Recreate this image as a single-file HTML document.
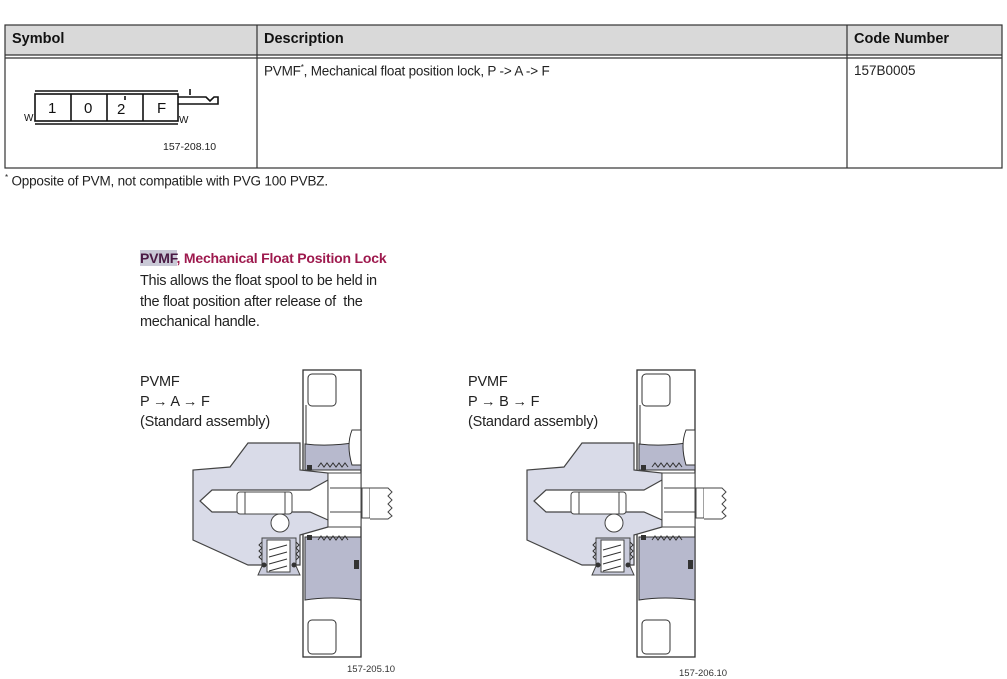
<!DOCTYPE html>
<html><head><meta charset="utf-8"><style>
body{margin:0;width:1007px;height:679px;background:#fff;position:relative;overflow:hidden;font-family:"Liberation Sans",sans-serif;color:#222}
.t{position:absolute;white-space:nowrap}
</style></head><body>
<svg width="1007" height="679" style="position:absolute;left:0;top:0" xmlns="http://www.w3.org/2000/svg">
<rect x="5" y="25" width="997" height="30" fill="#d9d9d9"/>
<g stroke="#333" stroke-width="1.2" fill="none">
<rect x="5" y="25" width="997" height="143"/>
<line x1="5" y1="55" x2="1002" y2="55"/>
<line x1="5" y1="58" x2="1002" y2="58"/>
<line x1="257" y1="25" x2="257" y2="168"/>
<line x1="847" y1="25" x2="847" y2="168"/>
</g>
<g stroke="#111" stroke-width="1.6" fill="none">
<line x1="35" y1="91" x2="178" y2="91"/>
<line x1="35" y1="124" x2="178" y2="124"/>
<rect x="35" y="94" width="143" height="27"/>
<line x1="71" y1="94" x2="71" y2="121"/>
<line x1="107" y1="94" x2="107" y2="121"/>
<line x1="143" y1="94" x2="143" y2="121"/>
<polyline points="178,97 206,97 210,101 214,97 218,97 218,104 178,104"/>
<line x1="190" y1="89" x2="190" y2="95"/>
<line x1="125" y1="96" x2="125" y2="100"/>
</g>
<g font-family="Liberation Sans" font-size="15" fill="#111">
<text x="48" y="113">1</text><text x="84" y="113">0</text><text x="117" y="114">2</text><text x="157" y="113">F</text>
</g>
<text x="24" y="121" font-size="10" fill="#111" font-family="Liberation Sans">W</text>
<text x="179" y="123" font-size="10" fill="#111" font-family="Liberation Sans">W</text>
<text x="163" y="150" font-size="10.5" fill="#222" font-family="Liberation Sans">157-208.10</text>

<defs>
<g id="dg">
  <rect x="303" y="370" width="58" height="287" fill="#fff" stroke="#333" stroke-width="1.3"/>
  <rect x="308" y="374" width="28" height="32" rx="4" fill="#fff" stroke="#333"/>
  <rect x="308" y="620" width="28" height="34" rx="4" fill="#fff" stroke="#333"/>
  <line x1="306" y1="405" x2="306" y2="445" stroke="#333"/>
  <path d="M305 444 Q330 447 358 442 L361 442 L361 470 L305 470 Z" fill="#b7b9cd" stroke="#333"/>
  <path d="M305 537 L361 537 L361 600 Q330 596 305 600 Z" fill="#b7b9cd" stroke="#333"/>
  <path d="M352 430 Q346 445 352 465 L361 465 L361 430Z" fill="#fff" stroke="#333"/>
  <rect x="354" y="560" width="5" height="9" fill="#333"/>
  <!-- body -->
  <polygon points="248,443 300,443 300,470 328,473 328,527 300,535 300,565 248,565 193,540 193,470 230,467" fill="#d9dbe8" stroke="#444" stroke-width="1.2"/>
  <!-- bore -->
  <path d="M212 490 L310 490 L328 480 L328 520 L310 512 L212 512 L200 501 Z" fill="#fff" stroke="#444" stroke-width="1.2"/>
  <rect x="328" y="473" width="33" height="54" fill="#fff" stroke="#444"/>
  <line x1="330" y1="488" x2="361" y2="488" stroke="#444"/>
  <line x1="330" y1="512" x2="361" y2="512" stroke="#444"/>
  <rect x="237" y="492" width="55" height="22" rx="3" fill="#fff" stroke="#444"/>
  <line x1="245" y1="492" x2="245" y2="514" stroke="#444"/>
  <line x1="285" y1="492" x2="285" y2="514" stroke="#444"/>
  <rect x="362" y="488" width="8" height="30" fill="#fff" stroke="#444"/>
  <path d="M370 488 L388 488 L392 492 L388 496 L392 500 L388 504 L392 508 L388 512 L392 516 L388 519 L370 519" fill="#fff" stroke="#444"/>
  <path d="M318 467 l3 -4 l3 4 l3 -4 l3 4 l3 -4 l3 4 l3 -4 l3 4 l3 -4 l3 4" fill="none" stroke="#333"/>
  <path d="M318 540 l3 -4 l3 4 l3 -4 l3 4 l3 -4 l3 4 l3 -4 l3 4 l3 -4 l3 4" fill="none" stroke="#333"/>
  <rect x="307" y="465" width="5" height="5" fill="#333"/>
  <rect x="307" y="535" width="5" height="5" fill="#333"/>
  <circle cx="280" cy="523" r="9" fill="#fff" stroke="#444"/>
  <path d="M262 538 L296 538 L296 566 L300 575 L258 575 L262 566 Z" fill="#c9cbdb" stroke="#444"/>
  <rect x="267" y="540" width="23" height="32" fill="#fff" stroke="#444"/>
  <path d="M269 550 L287 545 M269 557 L287 552 M269 564 L287 559 M269 571 L287 566" stroke="#333"/>
  <path d="M262 542 l-3 3 l3 3 l-3 3 l3 3 l-3 3 l3 3 M296 542 l3 3 l-3 3 l3 3 l-3 3 l3 3 l-3 3" fill="none" stroke="#333"/>
  <circle cx="264" cy="565" r="2.5" fill="#333"/><circle cx="294" cy="565" r="2.5" fill="#333"/>
</g>
</defs>
<use href="#dg"/>
<use href="#dg" transform="translate(334,0)"/>
<text x="347" y="672" font-size="9.5" fill="#333" font-family="Liberation Sans">157-205.10</text>
<text x="679" y="676" font-size="9.5" fill="#333" font-family="Liberation Sans">157-206.10</text>
</svg>

<div class="t" style="left:12px;top:31px;font-size:14.5px;font-weight:bold;color:#111">Symbol</div>
<div class="t" style="left:264px;top:31px;font-size:14.5px;font-weight:bold;color:#111">Description</div>
<div class="t" style="left:854px;top:31px;font-size:14.5px;font-weight:bold;color:#111">Code Number</div>
<div class="t" style="left:264px;top:63px;font-size:13.5px;letter-spacing:-0.2px">PVMF<sup style="font-size:8px">*</sup>, Mechanical float position lock, P -&gt; A -&gt; F</div>
<div class="t" style="left:854px;top:63px;font-size:13.5px">157B0005</div>
<div class="t" style="left:5px;top:173px;font-size:13.5px;letter-spacing:-0.2px"><sup style="font-size:8px">*</sup> Opposite of PVM, not compatible with PVG 100 PVBZ.</div>

<div class="t" style="left:140px;top:250px;font-size:14px;font-weight:bold;color:#9e1a4e;letter-spacing:-0.2px"><span style="color:#4a1a44;background:#c9c9d6">PVMF</span>, Mechanical Float Position Lock</div>
<div class="t" style="left:140px;top:271px;font-size:14.5px;line-height:20.5px;letter-spacing:-0.3px">This allows the float spool to be held in<br>the float position after release of&nbsp; the<br>mechanical handle.</div>

<div class="t" style="left:140px;top:372px;font-size:14.5px;line-height:20px;letter-spacing:-0.2px">PVMF<br>P → A → F<br>(Standard assembly)</div>
<div class="t" style="left:468px;top:372px;font-size:14.5px;line-height:20px;letter-spacing:-0.2px">PVMF<br>P → B → F<br>(Standard assembly)</div>
</body></html>
